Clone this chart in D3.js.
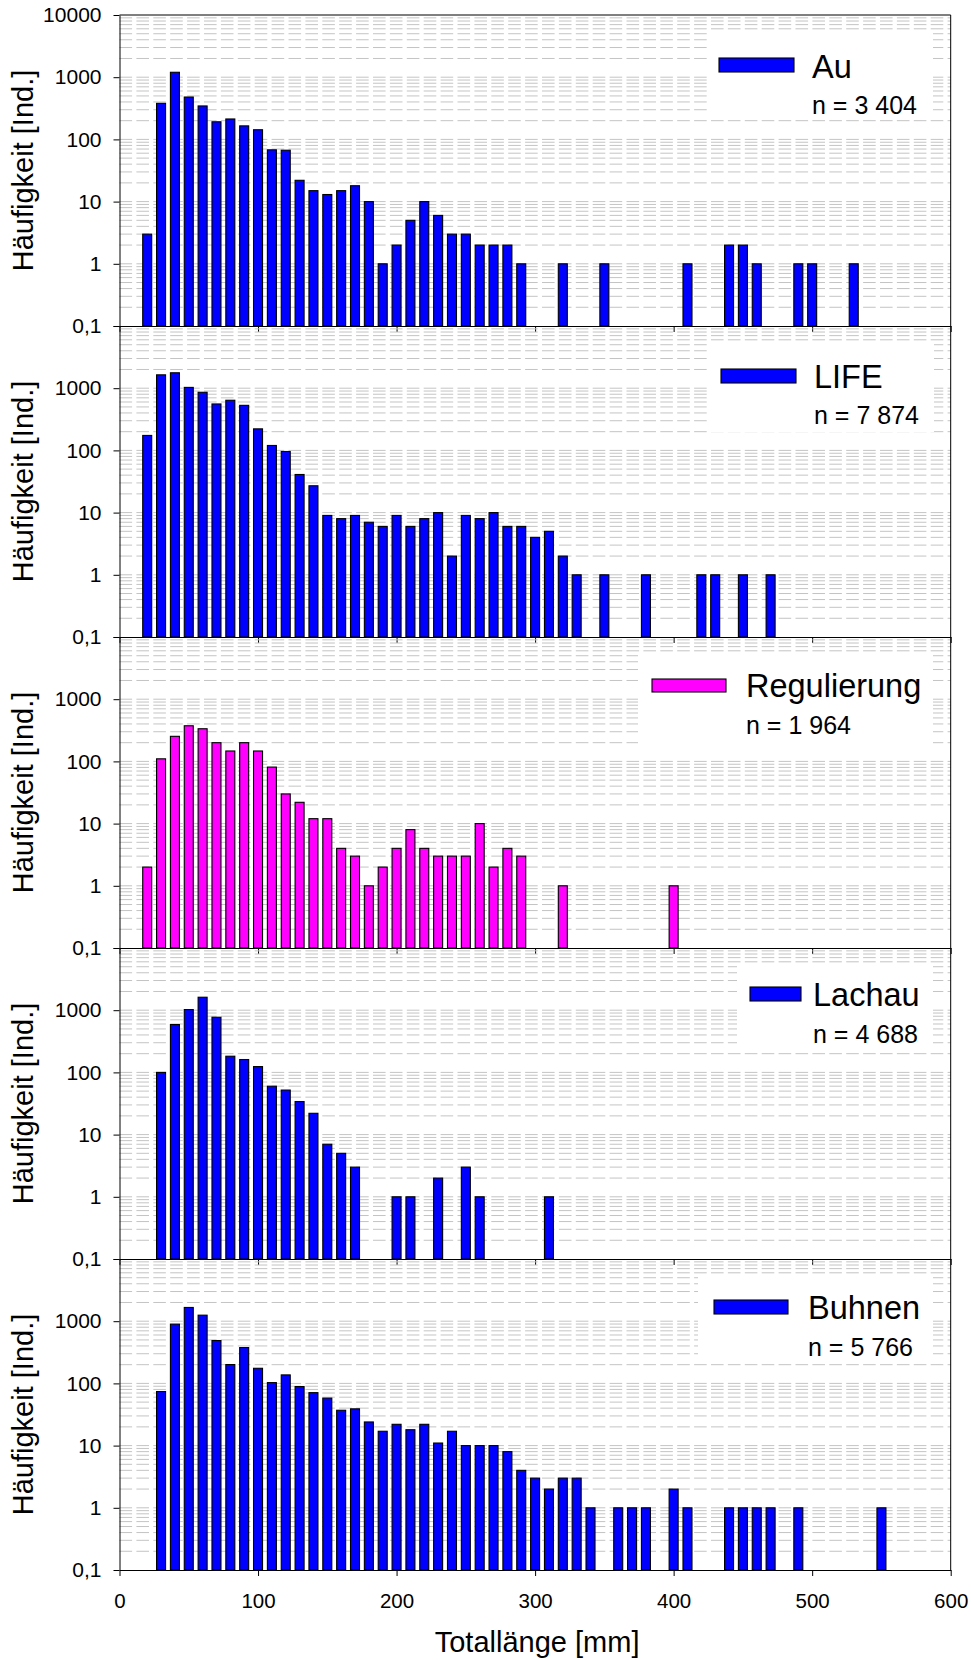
<!DOCTYPE html>
<html>
<head>
<meta charset="utf-8">
<script src="https://cdn.jsdelivr.net/npm/d3@7"></script>
<style>
  html, body { margin: 0; padding: 0; background: #fff; }
  svg { display: block; font-family: "Liberation Sans", Arial, sans-serif; }
</style>
</head>
<body>
<svg id="chart" width="971" height="1660"></svg>
<script>
// Length classes (mm), one bar per 10 mm class
const lengthClasses = [20, 30, 40, 50, 60, 70, 80, 90, 100, 110, 120, 130, 140, 150, 160, 170, 180, 190,
  200, 210, 220, 230, 240, 250, 260, 270, 280, 290, 300, 310, 320, 330, 340, 350, 360, 370, 380, 390,
  400, 410, 420, 430, 440, 450, 460, 470, 480, 490, 500, 510, 520, 530, 540, 550];

// Number of individuals per length class and site
const countsAu = [3, 380, 1200, 480, 345, 192, 213, 165, 143, 68, 67, 22, 15, 13, 15, 18, 10, 1,
  2, 5, 10, 6, 3, 3, 2, 2, 2, 1, 0, 0, 1, 0, 0, 1, 0, 0, 0, 0,
  0, 1, 0, 0, 2, 2, 1, 0, 0, 1, 1, 0, 0, 1, 0, 0];
const countsLife = [174, 1640, 1770, 1030, 860, 558, 640, 530, 222, 120, 96, 41, 27, 9, 8, 9, 7, 6,
  9, 6, 8, 10, 2, 9, 8, 10, 6, 6, 4, 5, 2, 1, 0, 1, 0, 0, 1, 0,
  0, 0, 1, 1, 0, 1, 0, 1, 0, 0, 0, 0, 0, 0, 0, 0];
const countsRegulierung = [2, 110, 253, 374, 335, 200, 147, 200, 147, 81, 30, 22, 12, 12, 4, 3, 1, 2,
  4, 8, 4, 3, 3, 3, 10, 2, 4, 3, 0, 0, 1, 0, 0, 0, 0, 0, 0, 0,
  1, 0, 0, 0, 0, 0, 0, 0, 0, 0, 0, 0, 0, 0, 0, 0];
const countsLachau = [0, 100, 588, 1024, 1616, 771, 182, 161, 124, 60, 52, 34, 22, 7, 5, 3, 0, 0,
  1, 1, 0, 2, 0, 3, 1, 0, 0, 0, 0, 1, 0, 0, 0, 0, 0, 0, 0, 0,
  0, 0, 0, 0, 0, 0, 0, 0, 0, 0, 0, 0, 0, 0, 0, 0];
const countsBuhnen = [0, 74, 896, 1663, 1250, 489, 201, 377, 175, 103, 137, 89, 71, 58, 37, 39, 24, 17,
  22, 18, 22, 11, 17, 10, 10, 10, 8, 4, 3, 2, 3, 3, 1, 0, 1, 1, 1, 0,
  2, 1, 0, 0, 1, 1, 1, 1, 0, 1, 0, 0, 0, 0, 0, 1];

const siteNames = ["Au", "LIFE", "Regulierung", "Lachau", "Buhnen"];
const sampleSizes = ["n = 3 404", "n = 7 874", "n = 1 964", "n = 4 688", "n = 5 766"];
const siteCounts = [countsAu, countsLife, countsRegulierung, countsLachau, countsBuhnen];
const siteColors = ["#0000ff", "#0000ff", "#ff00ff", "#0000ff", "#0000ff"];

// Axis ticks
const xTickValues = [0, 100, 200, 300, 400, 500, 600];
const yTickValues = [0.1, 1, 10, 100, 1000, 10000];
const yTickLabels = ["0,1", "1", "10", "100", "1000", "10000"];
const yTitle = "Häufigkeit [Ind.]";
const xTitle = "Totallänge [mm]";

// Layout
const plotLeft = 119.5, plotRight = 950.7;
const firstTop = 15, panelHeight = 311;
const barWidth = 9;

// Legend placement per panel (x in px, y relative to panel top)
const legendLayout = [
  { box: [707, 933, 18, 105], sw: [719, 794, 43, 57], tx: 812, ty: 63, ny: 99 },
  { box: [708, 934, 17, 106], sw: [721, 796, 43, 57], tx: 814, ty: 62, ny: 98 },
  { box: [638, 933, 17, 107], sw: [652, 726, 42, 55], tx: 746, ty: 60, ny: 97 },
  { box: [737, 933, 15, 105], sw: [750, 801, 39, 53], tx: 813, ty: 58, ny: 95 },
  { box: [698, 933, 18, 105], sw: [714, 788, 41, 55], tx: 808, ty: 60, ny: 97 }
];

const svg = d3.select("#chart");
const x = d3.scaleLinear().domain([0, 600]).range([plotLeft, plotRight]);

// minor/major grid values inside one panel (2..9 of each decade plus decades)
const gridValues = [];
[0.1, 1, 10, 100, 1000].forEach(d => {
  for (let k = 1; k <= 9; k++) {
    const v = d * k;
    if (v > 0.1 + 1e-9) gridValues.push(v);
  }
});

siteNames.forEach((name, i) => {
  const top = firstTop + i * panelHeight;
  const bottom = top + panelHeight;
  const y = d3.scaleLog().domain([0.1, 10000]).range([bottom, top]);
  const g = svg.append("g");

  // dashed grey grid
  g.append("g").selectAll("line").data(gridValues).join("line")
    .attr("x1", plotLeft).attr("x2", plotRight)
    .attr("y1", d => y(d)).attr("y2", d => y(d))
    .attr("stroke", "#c4c4c4").attr("stroke-width", 1)
    .attr("stroke-dasharray", "12.6,4.3");

  // legend backdrop hides the grid
  const L = legendLayout[i];
  g.append("rect")
    .attr("x", L.box[0]).attr("y", top + L.box[2])
    .attr("width", L.box[1] - L.box[0]).attr("height", L.box[3] - L.box[2])
    .attr("fill", "#fff");

  // bars
  const data = lengthClasses.map((len, j) => ({ len, n: siteCounts[i][j] })).filter(d => d.n > 0);
  g.append("g").selectAll("rect").data(data).join("rect")
    .attr("x", d => x(d.len) - barWidth / 2)
    .attr("width", barWidth)
    .attr("y", d => y(d.n))
    .attr("height", d => y(0.1) - y(d.n))
    .attr("fill", siteColors[i])
    .attr("stroke", "#000").attr("stroke-width", 1.1);

  // y axis
  const yAxis = d3.axisLeft(y).tickValues(yTickValues)
    .tickFormat((d, k) => (i > 0 && d === 10000) ? "" : yTickLabels[k])
    .tickSize(6).tickSizeOuter(0).tickPadding(12);
  const ya = g.append("g").attr("transform", `translate(${plotLeft},0)`).call(yAxis);
  ya.selectAll("text").attr("font-size", 21).attr("fill", "#000")
    .attr("font-family", "Liberation Sans, Arial, sans-serif");
  ya.selectAll("line, path").attr("stroke", "#000");

  // x axis at panel bottom
  const xAxis = d3.axisBottom(x).tickValues(xTickValues)
    .tickFormat(i === siteNames.length - 1 ? d3.format("d") : () => "")
    .tickSize(6).tickSizeOuter(0).tickPadding(17);
  const xa = g.append("g").attr("transform", `translate(0,${bottom})`).call(xAxis);
  xa.selectAll("text").attr("font-size", 20.5).attr("fill", "#000")
    .attr("font-family", "Liberation Sans, Arial, sans-serif");
  xa.selectAll("line, path").attr("stroke", "#000");

  // legend swatch and labels
  g.append("rect")
    .attr("x", L.sw[0]).attr("y", top + L.sw[2])
    .attr("width", L.sw[1] - L.sw[0]).attr("height", L.sw[3] - L.sw[2])
    .attr("fill", siteColors[i]).attr("stroke", "#000").attr("stroke-width", 1.1);
  g.append("text").attr("x", L.tx).attr("y", top + L.ty)
    .attr("font-size", 32.5).attr("fill", "#000").text(name);
  g.append("text").attr("x", L.tx).attr("y", top + L.ny)
    .attr("font-size", 25).attr("fill", "#000").text(sampleSizes[i]);

  // y title
  g.append("text")
    .attr("transform", `translate(33,${(top + bottom) / 2}) rotate(-90)`)
    .attr("text-anchor", "middle").attr("font-size", 29).attr("fill", "#000")
    .text(yTitle);
});

// frame: top and right edges
const lastBottom = firstTop + siteNames.length * panelHeight;
svg.append("line").attr("x1", plotLeft).attr("x2", plotRight)
  .attr("y1", firstTop).attr("y2", firstTop).attr("stroke", "#000");
svg.append("line").attr("x1", plotRight).attr("x2", plotRight)
  .attr("y1", firstTop).attr("y2", lastBottom).attr("stroke", "#000");

// x title
svg.append("text").attr("x", (plotLeft + plotRight) / 2 + 2).attr("y", 1652)
  .attr("text-anchor", "middle").attr("font-size", 29).attr("fill", "#000")
  .text(xTitle);
</script>
</body>
</html>
